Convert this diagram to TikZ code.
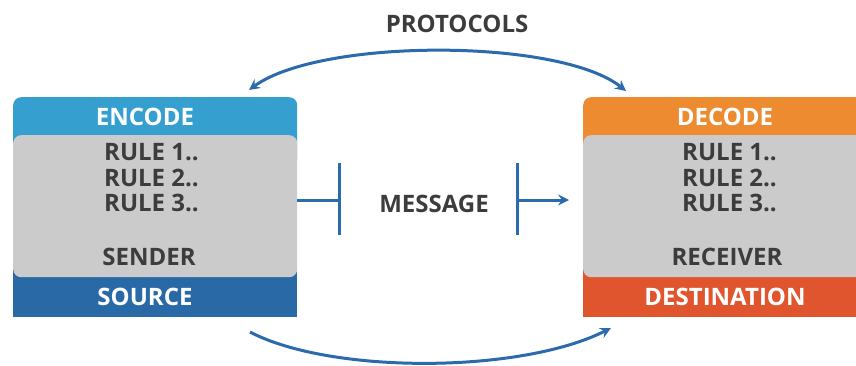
\documentclass[tikz,border=0pt]{standalone}
\usepackage{fontspec}
\setmainfont{Open Sans}
\usetikzlibrary{arrows.meta,calc}

\definecolor{encblue}{HTML}{35A0D0}
\definecolor{srcblue}{HTML}{2869A6}
\definecolor{bodygrey}{HTML}{CBCBCB}
\definecolor{decorange}{HTML}{EC8B2F}
\definecolor{dstred}{HTML}{E0552E}
\definecolor{linkblue}{HTML}{2A6AAD}
\definecolor{textgrey}{HTML}{3C3C3C}

\tikzset{
  band/.style={draw=none, minimum width=284pt, inner sep=0pt},
  topband/.style={band, rounded corners=8pt, minimum height=70pt, anchor=north west},
  lowband/.style={band, minimum height=150pt, anchor=south west},
  bodybox/.style={band, fill=bodygrey, rounded corners=8pt, minimum height=142pt, anchor=north west},
  lighttext/.style={text=white, font=\bfseries\fontsize{24}{28}\selectfont, inner sep=0pt},
  darktext/.style={text=textgrey, font=\bfseries\fontsize{24}{28}\selectfont, inner sep=0pt},
  link/.style={draw=linkblue, line width=3pt},
  tip/.style={-{Stealth[length=11pt,width=11pt,inset=4pt]}},
  twotips/.style={{Stealth[length=11pt,width=11pt,inset=4pt]}-{Stealth[length=11pt,width=11pt,inset=4pt]}},
}

\begin{document}
\begin{tikzpicture}[x=1pt, y=1pt]
  \useasboundingbox (0,0) rectangle (856,365);
  \clip (0,0) rectangle (856,365);

  % sender side
  \node[topband, fill=encblue] (lhead) at (13,268) {};
  \node[lowband, fill=srcblue] (lfoot) at (13,48) {};
  \node[bodybox] (lbody) at (13,230) {};
  \node[lighttext] (enc) at (145,248) {ENCODE};
  \node[darktext, anchor=west] (lr1) at (104,213) {RULE 1..};
  \node[darktext, anchor=west] (lr2) at (104,187) {RULE 2..};
  \node[darktext, anchor=west] (lr3) at (104,162) {RULE 3..};
  \node[darktext] (snd) at (149,108) {SENDER};
  \node[lighttext] (src) at (145,68) {SOURCE};

  % receiver side
  \node[topband, fill=decorange] (rhead) at (583,268) {};
  \node[lowband, fill=dstred] (rfoot) at (583,48) {};
  \node[bodybox] (rbody) at (583,230) {};
  \node[lighttext] (dec) at (725,248) {DECODE};
  \node[darktext, anchor=west] (rr1) at (682,213) {RULE 1..};
  \node[darktext, anchor=west] (rr2) at (682,187) {RULE 2..};
  \node[darktext, anchor=west] (rr3) at (682,162) {RULE 3..};
  \node[darktext] (rcv) at (727,108) {RECEIVER};
  \node[lighttext] (dst) at (725,68) {DESTINATION};

  % labels
  \node[darktext] (proto) at (457,341) {PROTOCOLS};
  \node[darktext] (msg) at (434,161) {MESSAGE};

  % message channel
  \coordinate (lbarmid) at (339,165);
  \coordinate (rbarmid) at (517,165);
  \coordinate (msgtip) at (569,165);
  \draw[link] (lbody.east |- lbarmid) -- (lbarmid);
  \draw[link] ($(lbarmid)+(0,37)$) -- ($(lbarmid)+(0,-35)$);
  \draw[link] ($(rbarmid)+(0,37)$) -- ($(rbarmid)+(0,-35)$);
  \draw[link, tip] (rbarmid) -- (msgtip);

  % protocol arc and feedback arc
  \coordinate (ptl) at (249,275);
  \coordinate (ptr) at (626,274);
  \draw[link, twotips] (ptl) .. controls (320,327) and (560,327) .. (ptr);
  \coordinate (fbl) at (250,33);
  \coordinate (fbr) at (611,37);
  \draw[link, tip] (fbl) .. controls (330,-9) and (520,-9) .. (fbr);
\end{tikzpicture}
\end{document}
